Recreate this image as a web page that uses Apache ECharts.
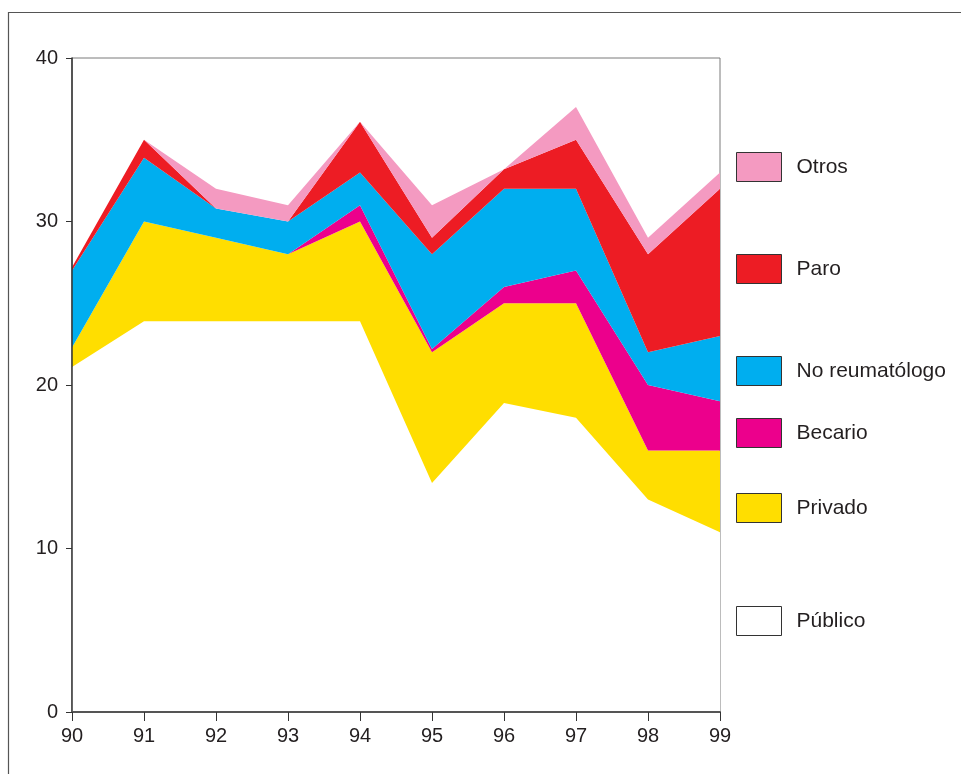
<!DOCTYPE html>
<html>
<head>
<meta charset="utf-8">
<title>Distribución por año</title>
<script src="https://cdn.jsdelivr.net/npm/echarts@6/dist/echarts.min.js"></script>
<style>
  html, body { margin: 0; padding: 0; background: #fff; }
  #chart { width: 961px; height: 774px; }
</style>
</head>
<body>
<div id="chart"></div>
<script>
// Years on the horizontal axis
const years = ['90', '91', '92', '93', '94', '95', '96', '97', '98', '99'];

// Stacked values per group (bottom to top)
const publico        = [21.1, 23.9, 23.9, 23.9, 23.9, 14.0, 18.9, 18.0, 13.0, 11.0];
const privado        = [1.2, 6.1, 5.1, 4.1, 6.1, 8.0, 6.1, 7.0, 3.0, 5.0];
const becario        = [0, 0, 0, 0, 1.0, 0.2, 1.0, 2.0, 4.0, 3.0];
const noReumatologo  = [4.7, 3.9, 1.8, 2.0, 2.0, 5.8, 6.0, 5.0, 2.0, 4.0];
const paro           = [0.2, 1.1, 0, 0, 3.1, 1.0, 1.2, 3.0, 6.0, 9.0];
const otros          = [0, 0, 1.2, 1.0, 0, 2.0, 0, 2.0, 1.0, 1.0];

// Value axis ticks
const yTicks = [0, 10, 20, 30, 40];

const groups = [
  { name: 'Público',        data: publico,       color: '#ffffff' },
  { name: 'Privado',        data: privado,       color: '#ffde00' },
  { name: 'Becario',        data: becario,       color: '#ec008c' },
  { name: 'No reumatólogo', data: noReumatologo, color: '#00aeef' },
  { name: 'Paro',           data: paro,          color: '#ed1c24' },
  { name: 'Otros',          data: otros,         color: '#f49ac1' }
];

// Legend entries are spaced unevenly, so each one gets its own legend block
const legendTops = {
  'Otros': 152,
  'Paro': 254,
  'No reumatólogo': 356,
  'Becario': 418,
  'Privado': 493,
  'Público': 606
};

const fontFamily = '"Liberation Sans", Arial, Helvetica, sans-serif';
const textColor = '#231f20';

const chart = echarts.init(document.getElementById('chart'), null, { renderer: 'canvas' });

const option = {
  animation: false,
  backgroundColor: '#ffffff',
  grid: {
    left: 72,
    right: 241,
    top: 58,
    bottom: 62,
    show: true,
    borderColor: '#7a7a7a',
    borderWidth: 1,
    backgroundColor: 'transparent'
  },
  xAxis: {
    type: 'category',
    data: years,
    boundaryGap: false,
    axisLine: { show: true, lineStyle: { color: '#555', width: 2 } },
    axisTick: { show: true, length: 9, inside: false, alignWithLabel: true, lineStyle: { color: '#333', width: 1 } },
    axisLabel: { color: textColor, fontSize: 20, fontFamily: fontFamily, margin: 14 },
    splitLine: { show: false },
    z: 10
  },
  yAxis: {
    type: 'value',
    min: yTicks[0],
    max: yTicks[yTicks.length - 1],
    interval: 10,
    axisLine: { show: true, lineStyle: { color: '#333', width: 1.5 } },
    axisTick: { show: true, length: 6, lineStyle: { color: '#333', width: 1 } },
    axisLabel: { color: textColor, fontSize: 20, fontFamily: fontFamily, margin: 14 },
    splitLine: { show: false },
    z: 10
  },
  legend: groups.map(g => ({
    data: [g.name],
    left: 736,
    top: legendTops[g.name],
    orient: 'vertical',
    padding: 0,
    icon: 'rect',
    itemWidth: 45,
    itemHeight: 29,
    selectedMode: false,
    itemStyle: { borderColor: '#333', borderWidth: 1 },
    textStyle: {
      color: textColor,
      fontSize: 21,
      fontFamily: fontFamily,
      padding: [0, 0, 0, 10]
    }
  })),
  series: groups.map(g => ({
    name: g.name,
    type: 'line',
    stack: 'total',
    data: g.data,
    showSymbol: false,
    symbol: 'none',
    lineStyle: { width: 0 },
    itemStyle: { color: g.color },
    areaStyle: { color: g.color, opacity: 1 },
    emphasis: { disabled: true }
  })),
  graphic: [
    {
      // outer frame, open on the right and bottom edges of the page
      type: 'polyline',
      shape: { points: [[8.5, 780], [8.5, 12.5], [970, 12.5]] },
      style: { stroke: '#555', lineWidth: 1.2, fill: null },
      silent: true
    }
  ]
};

chart.setOption(option);
</script>
</body>
</html>
